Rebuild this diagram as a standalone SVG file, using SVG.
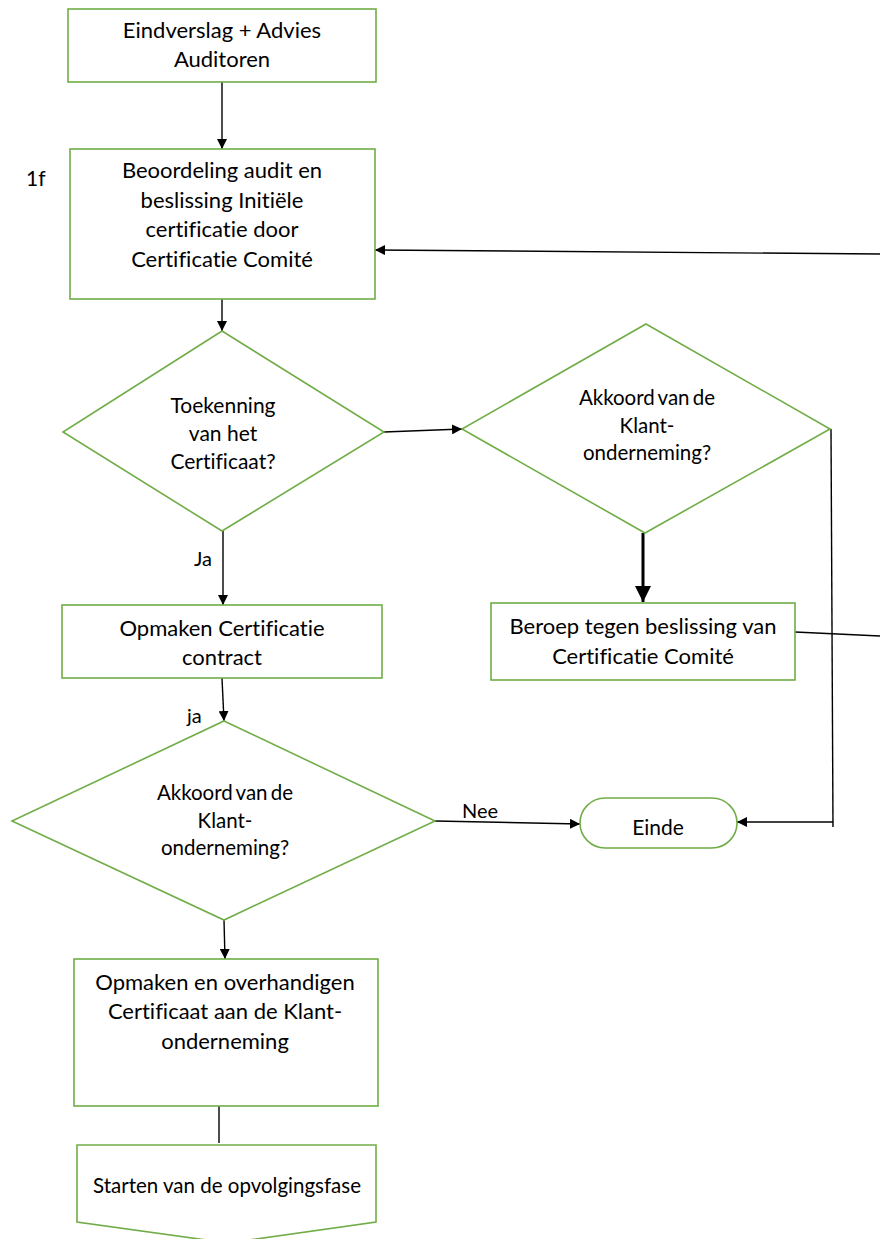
<svg xmlns="http://www.w3.org/2000/svg" width="880" height="1239" viewBox="0 0 880 1239">
  <defs>
    <marker id="arr" viewBox="0 0 10 10" refX="10" refY="5" markerWidth="10" markerHeight="10" markerUnits="userSpaceOnUse" orient="auto">
      <path d="M0,0 L10,5 L0,10 Z" fill="#000"/>
    </marker>
    <marker id="arrBig" viewBox="0 0 10 10" refX="10" refY="5" markerWidth="18" markerHeight="16" markerUnits="userSpaceOnUse" orient="auto">
      <path d="M0,0 L10,5 L0,10 Z" fill="#000"/>
    </marker>
    <style>
      .shape { fill: #fff; stroke: #70AD47; stroke-width: 1.6; }
      .line { fill: none; stroke: #000; stroke-width: 1.4; }
      .thick { fill: none; stroke: #000; stroke-width: 3; }
      text { font-family: Lato, "Liberation Sans", sans-serif; font-size: 22px; fill: #000; text-anchor: middle; font-variant-ligatures: none; }
      .lbl { text-anchor: start; font-size: 20px; }
      .q1 { font-size: 21px; }
      .q2 { font-size: 20.5px; }
    </style>
  </defs>
  <rect width="880" height="1239" fill="#fff"/>

  <!-- connectors -->
  <g id="connectors">
    <line class="line" x1="222" y1="82" x2="222" y2="149" marker-end="url(#arr)"/>
    <line class="line" x1="880" y1="254" x2="375" y2="250" marker-end="url(#arr)"/>
    <line class="line" x1="222" y1="299" x2="222" y2="331" marker-end="url(#arr)"/>
    <line class="line" x1="384" y1="432" x2="462" y2="429" marker-end="url(#arr)"/>
    <line class="thick" x1="643" y1="533" x2="643" y2="602" marker-end="url(#arrBig)"/>
    <line class="line" x1="795" y1="632" x2="880" y2="636"/>
    <line class="line" x1="831" y1="429" x2="833" y2="827"/>
    <line class="line" x1="833" y1="822" x2="737" y2="822" marker-end="url(#arr)"/>
    <line class="line" x1="223" y1="531" x2="223" y2="605" marker-end="url(#arr)"/>
    <line class="line" x1="222" y1="678" x2="224" y2="721" marker-end="url(#arr)"/>
    <line class="line" x1="435" y1="821" x2="580" y2="824" marker-end="url(#arr)"/>
    <line class="line" x1="224" y1="920" x2="225" y2="959" marker-end="url(#arr)"/>
    <line class="line" x1="219" y1="1106" x2="219" y2="1143"/>
    <text class="lbl" x="194" y="566">Ja</text>
    <text class="lbl" x="187" y="723">ja</text>
    <text class="lbl" x="462" y="818">Nee</text>
  </g>

  <text class="lbl" x="26" y="186" style="font-size:21px">1f</text>

  <g id="eindverslag">
    <rect class="shape" x="68" y="9" width="308" height="73"/>
    <text x="222" y="38">Eindverslag + Advies</text>
    <text x="222" y="67">Auditoren</text>
  </g>

  <g id="beoordeling">
    <rect class="shape" x="70" y="149" width="305" height="150"/>
    <text x="222" y="178">Beoordeling audit en</text>
    <text x="222" y="208">beslissing Initiële</text>
    <text x="222" y="237">certificatie door</text>
    <text x="222" y="267">Certificatie Comité</text>
  </g>

  <g id="toekenning">
    <polygon class="shape" points="222,331 384,432 222,531 63,432"/>
    <text class="q1" x="223" y="413">Toekenning</text>
    <text class="q1" x="223" y="441">van het</text>
    <text class="q1" x="223" y="469">Certificaat?</text>
  </g>

  <g id="akkoord1">
    <polygon class="shape" points="646,324 830,429 645,533 462,429"/>
    <text class="q2" x="647" y="405" word-spacing="-2">Akkoord van de</text>
    <text class="q2" x="647" y="433">Klant-</text>
    <text class="q2" x="647" y="460">onderneming?</text>
  </g>

  <g id="beroep">
    <rect class="shape" x="491" y="603" width="304" height="77"/>
    <text x="643" y="634">Beroep tegen beslissing van</text>
    <text x="643" y="664">Certificatie Comité</text>
  </g>

  <g id="contract">
    <rect class="shape" x="62" y="605" width="320" height="73"/>
    <text x="222" y="636">Opmaken Certificatie</text>
    <text x="222" y="665">contract</text>
  </g>

  <g id="akkoord2">
    <polygon class="shape" points="224,721 435,821 224,920 12,821"/>
    <text class="q2" x="225" y="800" word-spacing="-2">Akkoord van de</text>
    <text class="q2" x="225" y="828">Klant-</text>
    <text class="q2" x="225" y="855">onderneming?</text>
  </g>

  <g id="einde">
    <rect class="shape" x="580" y="798" width="157" height="50" rx="25" ry="25"/>
    <text class="q1" x="658" y="835">Einde</text>
  </g>

  <g id="overhandigen">
    <rect class="shape" x="74" y="959" width="304" height="147"/>
    <text x="225" y="990">Opmaken en overhandigen</text>
    <text x="225" y="1019">Certificaat aan de Klant-</text>
    <text x="225" y="1049">onderneming</text>
  </g>

  <g id="opvolging">
    <polygon class="shape" points="77,1145 376,1145 376,1222 228,1243 77,1222"/>
    <text x="227" y="1193" style="font-size:20.5px">Starten van de opvolgingsfase</text>
  </g>
</svg>
